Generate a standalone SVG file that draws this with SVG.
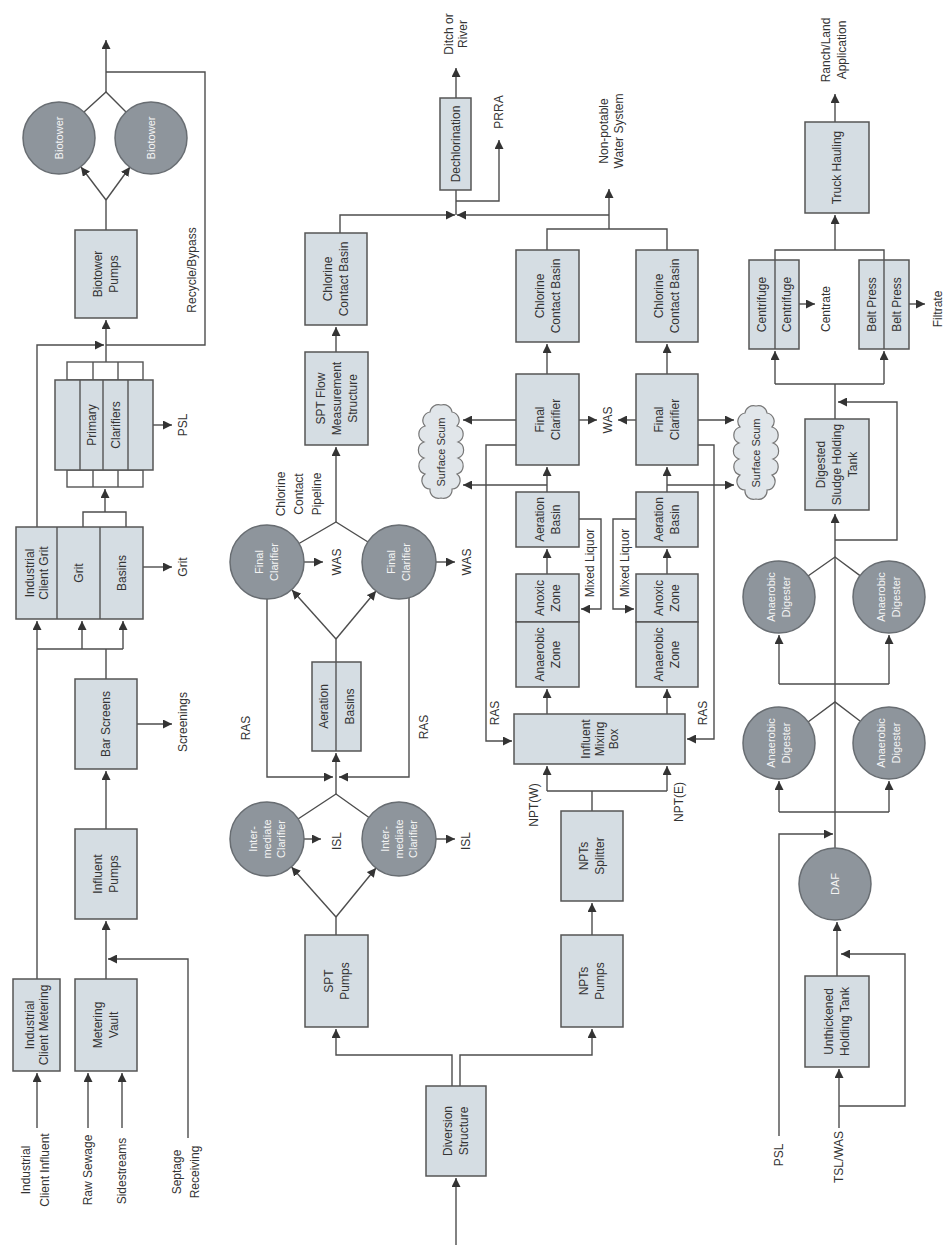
<svg xmlns="http://www.w3.org/2000/svg" width="948" height="1249" viewBox="0 0 948 1249">
<style>
.box{fill:#d5dde3;stroke:#555;stroke-width:1.5}
.fr{fill:none;stroke:#555;stroke-width:1.4}
.circ{fill:#8e959c;stroke:#686d72;stroke-width:1.5}
.cloud{fill:#e1e6ea;stroke:#777;stroke-width:1.2}
.ln{fill:none;stroke:#4d4d4d;stroke-width:1.4}
.ar{marker-end:url(#ah)}
.t{font-family:"Liberation Sans",Arial,sans-serif;font-size:12px;fill:#333;text-anchor:middle}
.tw{font-family:"Liberation Sans",Arial,sans-serif;font-size:11px;fill:#f4f4f4;text-anchor:middle}
</style>
<defs>
<marker id="ah" viewBox="0 0 10 10" refX="10" refY="5" markerWidth="9" markerHeight="9" markerUnits="userSpaceOnUse" orient="auto"><path d="M0,0 L10,5 L0,10 z" fill="#333"/></marker>
<path id="cl" d="M0,-47 A8.5,8.5 0 0 1 11,-40 A8.5,8.5 0 0 1 16,-26 A8.5,8.5 0 0 1 17,-10 A8.5,8.5 0 0 1 17,6 A8.5,8.5 0 0 1 16,22 A8.5,8.5 0 0 1 11,37 A8.5,8.5 0 0 1 0,46 A8.5,8.5 0 0 1 -11,37 A8.5,8.5 0 0 1 -16,22 A8.5,8.5 0 0 1 -17,6 A8.5,8.5 0 0 1 -17,-10 A8.5,8.5 0 0 1 -16,-26 A8.5,8.5 0 0 1 -11,-40 A8.5,8.5 0 0 1 0,-47 Z"/>
</defs>
<rect width="948" height="1249" fill="#ffffff"/>

<g id="connectors">
<path class="ln ar" d="M37,1128 V1073"/>
<path class="ln ar" d="M88,1128 V1073"/>
<path class="ln ar" d="M122,1128 V1073"/>
<path class="ln ar" d="M188,1138 V959 H108"/>
<path class="ln ar" d="M106,979 V921"/>
<path class="ln ar" d="M106,829 V771"/>
<path class="ln ar" d="M137,724 H172"/>
<path class="ln ar" d="M37,979 V621"/>
<path class="ln" d="M106,679 V649 M37,649 H123"/>
<path class="ln ar" d="M82,649 V621"/>
<path class="ln ar" d="M123,649 V621"/>
<path class="ln ar" d="M143,567 H172"/>
<path class="ln" d="M83,527 V512 H126 V527"/>
<path class="ln ar" d="M105,512 V489"/>
<path class="ln ar" d="M153,425 H172"/>
<path class="ln ar" d="M106,362 V320"/>
<path class="ln ar" d="M37,527 V345 H104"/>
<path class="ln" d="M106,345 H205 V72 H106"/>
<path class="ln" d="M106,230 V200"/>
<path class="ln ar" d="M106,200 L81,167"/>
<path class="ln ar" d="M106,200 L130,167"/>
<path class="ln" d="M84,112 L106,92 L127,113"/>
<path class="ln ar" d="M106,92 V40"/>

<path class="ln ar" d="M456,1245 V1178"/>
<path class="ln ar" d="M452,1086 V1055 H336 V1029"/>
<path class="ln ar" d="M460,1086 V1055 H592 V1029"/>
<path class="ln ar" d="M592,935 V903"/>
<path class="ln" d="M592,811 V791 M547,791 H667"/>
<path class="ln ar" d="M547,791 V766"/>
<path class="ln ar" d="M667,791 V766"/>
<path class="ln ar" d="M547,714 V689"/>
<path class="ln ar" d="M667,714 V689"/>
<path class="ln ar" d="M547,574 V549"/>
<path class="ln ar" d="M667,574 V549"/>
<path class="ln ar" d="M547,492 V467"/>
<path class="ln ar" d="M667,492 V467"/>
<path class="ln ar" d="M547,374 V344"/>
<path class="ln ar" d="M667,374 V344"/>
<path class="ln ar" d="M579,519 H601 V609 H581"/>
<path class="ln ar" d="M636,519 H613 V609 H634"/>
<path class="ln ar" d="M579,420 H597"/>
<path class="ln ar" d="M636,420 H618"/>
<path class="ln ar" d="M516,420 H463"/>
<path class="ln ar" d="M547,485 H463"/>
<path class="ln ar" d="M698,420 H734"/>
<path class="ln ar" d="M667,485 H734"/>
<path class="ln ar" d="M516,445 H486 V741 H512"/>
<path class="ln ar" d="M698,445 H714 V739 H687"/>
<path class="ln" d="M547,250 V229 H667 V250"/>
<path class="ln ar" d="M609,229 V189"/>
<path class="ln ar" d="M340,233 V215 H455"/>
<path class="ln ar" d="M609,215 H457"/>
<path class="ln" d="M456,215 V190"/>
<path class="ln ar" d="M456,201 H499 V140"/>
<path class="ln ar" d="M456,98 V68"/>

<path class="ln ar" d="M336,352 V327"/>
<path class="ln ar" d="M336,522 V447"/>
<path class="ln" d="M299,543.5 L336,522 L368,542"/>
<path class="ln ar" d="M304,562 H323"/>
<path class="ln ar" d="M436,562 H455"/>
<path class="ln" d="M336,662 V639"/>
<path class="ln ar" d="M336,639 L292,590"/>
<path class="ln ar" d="M336,639 L376,591"/>
<path class="ln ar" d="M267,599 V777 H333"/>
<path class="ln ar" d="M409,598 V777 H339"/>
<path class="ln ar" d="M336,794 V753"/>
<path class="ln" d="M298,819 L336,794 L369,817.5"/>
<path class="ln ar" d="M304,839 H321"/>
<path class="ln ar" d="M436,839 H455"/>
<path class="ln" d="M336,935 V917"/>
<path class="ln ar" d="M336,917 L291.5,867"/>
<path class="ln ar" d="M336,917 L376,868"/>

<path class="ln ar" d="M839,1128 V1069"/>
<path class="ln ar" d="M839,1106 H905 V954 H841"/>
<path class="ln ar" d="M837,976 V922"/>
<path class="ln ar" d="M779,1136 V834 H833"/>
<path class="ln ar" d="M835,848 V514"/>
<path class="ln" d="M779,812 H889"/>
<path class="ln ar" d="M779,812 V781"/>
<path class="ln ar" d="M889,812 V781"/>
<path class="ln" d="M808,722 L835,702 L860,721"/>
<path class="ln" d="M779,684 H889"/>
<path class="ln ar" d="M779,684 V635"/>
<path class="ln ar" d="M889,684 V635"/>
<path class="ln" d="M808,576 L835,557 L860,575.6"/>
<path class="ln ar" d="M835,540 H897 V402 H838"/>
<path class="ln" d="M835,419 V384 M775,384 H884"/>
<path class="ln ar" d="M775,384 V351"/>
<path class="ln ar" d="M884,384 V351"/>
<path class="ln ar" d="M799,304 H815"/>
<path class="ln ar" d="M909,304 H925"/>
<path class="ln" d="M775,260 V250 H884 V260"/>
<path class="ln ar" d="M835,250 V215"/>
<path class="ln ar" d="M835,122 V94"/>
</g>

<g id="industrial-client-metering"><rect class="box" x="13" y="979" width="47" height="92"/><text class="t" transform="translate(36.5,1025) rotate(-90)"><tspan x="0" y="-2.8">Industrial</tspan><tspan x="0" y="11.2">Client Metering</tspan></text></g>
<g id="metering-vault"><rect class="box" x="75" y="979" width="62" height="92"/><text class="t" transform="translate(106,1025) rotate(-90)"><tspan x="0" y="-3.8">Metering</tspan><tspan x="0" y="12.2">Vault</tspan></text></g>
<g id="influent-pumps"><rect class="box" x="75" y="829" width="62" height="90"/><text class="t" transform="translate(106,874) rotate(-90)"><tspan x="0" y="-3.8">Influent</tspan><tspan x="0" y="12.2">Pumps</tspan></text></g>
<g id="bar-screens"><rect class="box" x="75" y="679" width="62" height="90"/><text class="t" transform="translate(106,724) rotate(-90)"><tspan x="0" y="4.2">Bar Screens</tspan></text></g>
<g id="grit-basins"><rect class="box" x="16" y="527" width="127" height="92"/><path class="fr" d="M57,527 V619 M100,527 V619"/>
<text class="t" transform="translate(36.5,573) rotate(-90)"><tspan x="0" y="-2.8">Industrial</tspan><tspan x="0" y="11.2">Client Grit</tspan></text>
<text class="t" transform="translate(78.5,573) rotate(-90)"><tspan x="0" y="4.2">Grit</tspan></text>
<text class="t" transform="translate(121.5,573) rotate(-90)"><tspan x="0" y="4.2">Basins</tspan></text></g>
<g id="primary-clarifiers"><rect class="fr" x="67" y="362" width="76" height="18"/><rect class="fr" x="67" y="470" width="76" height="17"/><path class="fr" d="M93,362 V380 M118,362 V380 M93,470 V487 M118,470 V487"/>
<rect class="box" x="55" y="380" width="98" height="90"/><path class="fr" d="M80,380 V470 M103,380 V470 M128,380 V470"/>
<text class="t" transform="translate(103.5,425) rotate(-90)"><tspan x="0" y="-7.8">Primary</tspan><tspan x="0" y="16.2">Clarifiers</tspan></text></g>
<g id="biotower-pumps"><rect class="box" x="75" y="230" width="62" height="88"/><text class="t" transform="translate(106,274) rotate(-90)"><tspan x="0" y="-3.8">Biotower</tspan><tspan x="0" y="12.2">Pumps</tspan></text></g>
<g id="biotower-1"><circle class="circ" cx="59" cy="138" r="36"/><text class="tw" transform="translate(59,138) rotate(-90)"><tspan x="0" y="3.9">Biotower</tspan></text></g>
<g id="biotower-2"><circle class="circ" cx="151" cy="138" r="36"/><text class="tw" transform="translate(151,138) rotate(-90)"><tspan x="0" y="3.9">Biotower</tspan></text></g>

<g id="labels-left">
<text class="t" transform="translate(35,1170) rotate(-90)"><tspan x="0" y="-5.3">Industrial</tspan><tspan x="0" y="13.7">Client Influent</tspan></text>
<text class="t" transform="translate(88,1170) rotate(-90)"><tspan x="0" y="4.2">Raw Sewage</tspan></text>
<text class="t" transform="translate(122,1171) rotate(-90)"><tspan x="0" y="4.2">Sidestreams</tspan></text>
<text class="t" transform="translate(186,1172) rotate(-90)"><tspan x="0" y="-4.8">Septage</tspan><tspan x="0" y="13.2">Receiving</tspan></text>
<text class="t" transform="translate(183,722) rotate(-90)"><tspan x="0" y="4.2">Screenings</tspan></text>
<text class="t" transform="translate(183,567) rotate(-90)"><tspan x="0" y="4.2">Grit</tspan></text>
<text class="t" transform="translate(183,425) rotate(-90)"><tspan x="0" y="4.2">PSL</tspan></text>
<text class="t" transform="translate(192,270) rotate(-90)"><tspan x="0" y="4.2">Recycle/Bypass</tspan></text>
</g>

<g id="diversion-structure"><rect class="box" x="426" y="1086" width="60" height="90"/><text class="t" transform="translate(456,1131) rotate(-90)"><tspan x="0" y="-3.8">Diversion</tspan><tspan x="0" y="12.2">Structure</tspan></text></g>
<g id="spt-pumps"><rect class="box" x="305" y="935" width="63" height="92"/><text class="t" transform="translate(336.5,981) rotate(-90)"><tspan x="0" y="-3.8">SPT</tspan><tspan x="0" y="12.2">Pumps</tspan></text></g>
<g id="npts-pumps"><rect class="box" x="561" y="935" width="62" height="92"/><text class="t" transform="translate(592,981) rotate(-90)"><tspan x="0" y="-3.8">NPTs</tspan><tspan x="0" y="12.2">Pumps</tspan></text></g>
<g id="npts-splitter"><rect class="box" x="561" y="811" width="62" height="90"/><text class="t" transform="translate(592,856) rotate(-90)"><tspan x="0" y="-3.8">NPTs</tspan><tspan x="0" y="12.2">Splitter</tspan></text></g>
<g id="influent-mixing-box"><rect class="box" x="514" y="714" width="171" height="50"/><text class="t" transform="translate(599.5,739) rotate(-90)"><tspan x="0" y="-9.8">Influent</tspan><tspan x="0" y="4.2">Mixing</tspan><tspan x="0" y="18.2">Box</tspan></text></g>

<g id="anoxic-zone-w"><rect class="box" x="516" y="574" width="63" height="48"/><text class="t" transform="translate(547.5,598) rotate(-90)"><tspan x="0" y="-3.8">Anoxic</tspan><tspan x="0" y="12.2">Zone</tspan></text></g>
<g id="anaerobic-zone-w"><rect class="box" x="516" y="622" width="63" height="65"/><text class="t" transform="translate(547.5,654.5) rotate(-90)"><tspan x="0" y="-3.8">Anaerobic</tspan><tspan x="0" y="12.2">Zone</tspan></text></g>
<g id="aeration-basin-w"><rect class="box" x="516" y="492" width="63" height="55"/><text class="t" transform="translate(547.5,519.5) rotate(-90)"><tspan x="0" y="-3.8">Aeration</tspan><tspan x="0" y="12.2">Basin</tspan></text></g>
<g id="final-clarifier-w"><rect class="box" x="516" y="374" width="63" height="91"/><text class="t" transform="translate(547.5,419.5) rotate(-90)"><tspan x="0" y="-3.8">Final</tspan><tspan x="0" y="12.2">Clarifier</tspan></text></g>
<g id="chlorine-contact-w"><rect class="box" x="516" y="250" width="63" height="92"/><text class="t" transform="translate(547.5,296) rotate(-90)"><tspan x="0" y="-3.8">Chlorine</tspan><tspan x="0" y="12.2">Contact Basin</tspan></text></g>

<g id="anoxic-zone-e"><rect class="box" x="636" y="574" width="62" height="48"/><text class="t" transform="translate(667,598) rotate(-90)"><tspan x="0" y="-3.8">Anoxic</tspan><tspan x="0" y="12.2">Zone</tspan></text></g>
<g id="anaerobic-zone-e"><rect class="box" x="636" y="622" width="62" height="65"/><text class="t" transform="translate(667,654.5) rotate(-90)"><tspan x="0" y="-3.8">Anaerobic</tspan><tspan x="0" y="12.2">Zone</tspan></text></g>
<g id="aeration-basin-e"><rect class="box" x="636" y="492" width="62" height="55"/><text class="t" transform="translate(667,519.5) rotate(-90)"><tspan x="0" y="-3.8">Aeration</tspan><tspan x="0" y="12.2">Basin</tspan></text></g>
<g id="final-clarifier-e"><rect class="box" x="636" y="374" width="62" height="91"/><text class="t" transform="translate(667,419.5) rotate(-90)"><tspan x="0" y="-3.8">Final</tspan><tspan x="0" y="12.2">Clarifier</tspan></text></g>
<g id="chlorine-contact-e"><rect class="box" x="636" y="250" width="62" height="92"/><text class="t" transform="translate(667,296) rotate(-90)"><tspan x="0" y="-3.8">Chlorine</tspan><tspan x="0" y="12.2">Contact Basin</tspan></text></g>

<g id="surface-scum-w"><use href="#cl" class="cloud" x="441" y="452"/><text class="t" transform="translate(441,452) rotate(-90)" style="font-size:11px"><tspan x="0" y="3.9">Surface Scum</tspan></text></g>
<g id="surface-scum-e"><use href="#cl" class="cloud" x="756" y="453"/><text class="t" transform="translate(756,453) rotate(-90)" style="font-size:11px"><tspan x="0" y="3.9">Surface Scum</tspan></text></g>

<g id="dechlorination"><rect class="box" x="440" y="98" width="31" height="92"/><text class="t" transform="translate(455.5,144) rotate(-90)"><tspan x="0" y="4.2">Dechlorination</tspan></text></g>

<g id="spt-chlorine-contact"><rect class="box" x="305" y="233" width="62" height="92"/><text class="t" transform="translate(336,279) rotate(-90)"><tspan x="0" y="-3.8">Chlorine</tspan><tspan x="0" y="12.2">Contact Basin</tspan></text></g>
<g id="spt-flow-measurement"><rect class="box" x="305" y="352" width="63" height="93"/><text class="t" transform="translate(336.5,398.5) rotate(-90)"><tspan x="0" y="-11.8">SPT Flow</tspan><tspan x="0" y="4.2">Measurement</tspan><tspan x="0" y="20.2">Structure</tspan></text></g>
<g id="final-clarifier-c1"><circle class="circ" cx="267" cy="562" r="37"/><text class="tw" transform="translate(267,562) rotate(-90)"><tspan x="0" y="-3.6">Final</tspan><tspan x="0" y="11.4">Clarifier</tspan></text></g>
<g id="final-clarifier-c2"><circle class="circ" cx="399" cy="562" r="37"/><text class="tw" transform="translate(399,562) rotate(-90)"><tspan x="0" y="-3.6">Final</tspan><tspan x="0" y="11.4">Clarifier</tspan></text></g>
<g id="aeration-basins"><rect class="box" x="312" y="662" width="49" height="89"/><path class="fr" d="M336,662 V751"/><text class="t" transform="translate(336.5,706.5) rotate(-90)"><tspan x="0" y="-8.8">Aeration</tspan><tspan x="0" y="17.2">Basins</tspan></text></g>
<g id="intermediate-clarifier-1"><circle class="circ" cx="267" cy="839" r="37"/><text class="tw" transform="translate(267,839) rotate(-90)"><tspan x="0" y="-10.1">Inter-</tspan><tspan x="0" y="3.9">mediate</tspan><tspan x="0" y="17.9">Clarifier</tspan></text></g>
<g id="intermediate-clarifier-2"><circle class="circ" cx="399" cy="839" r="37"/><text class="tw" transform="translate(399,839) rotate(-90)"><tspan x="0" y="-10.1">Inter-</tspan><tspan x="0" y="3.9">mediate</tspan><tspan x="0" y="17.9">Clarifier</tspan></text></g>

<g id="labels-middle">
<text class="t" transform="translate(534,805) rotate(-90)"><tspan x="0" y="4.2">NPT(W)</tspan></text>
<text class="t" transform="translate(679,802) rotate(-90)"><tspan x="0" y="4.2">NPT(E)</tspan></text>
<text class="t" transform="translate(495,713) rotate(-90)"><tspan x="0" y="4.2">RAS</tspan></text>
<text class="t" transform="translate(703,713) rotate(-90)"><tspan x="0" y="4.2">RAS</tspan></text>
<text class="t" transform="translate(590,563) rotate(-90)"><tspan x="0" y="4.2">Mixed Liquor</tspan></text>
<text class="t" transform="translate(625,563) rotate(-90)"><tspan x="0" y="4.2">Mixed Liquor</tspan></text>
<text class="t" transform="translate(607.5,420) rotate(-90)"><tspan x="0" y="4.2">WAS</tspan></text>
<text class="t" transform="translate(611,131) rotate(-90)"><tspan x="0" y="-3.3">Non-potable</tspan><tspan x="0" y="11.7">Water System</tspan></text>
<text class="t" transform="translate(499,112) rotate(-90)"><tspan x="0" y="4.2">PRRA</tspan></text>
<text class="t" transform="translate(456,34) rotate(-90)"><tspan x="0" y="-2.8">Ditch or</tspan><tspan x="0" y="11.2">River</tspan></text>
<text class="t" transform="translate(299,494) rotate(-90)"><tspan x="0" y="-13.8">Chlorine</tspan><tspan x="0" y="4.2">Contact</tspan><tspan x="0" y="22.2">Pipeline</tspan></text>
<text class="t" transform="translate(337,562) rotate(-90)"><tspan x="0" y="4.2">WAS</tspan></text>
<text class="t" transform="translate(467,562) rotate(-90)"><tspan x="0" y="4.2">WAS</tspan></text>
<text class="t" transform="translate(246,728) rotate(-90)"><tspan x="0" y="4.2">RAS</tspan></text>
<text class="t" transform="translate(424,727) rotate(-90)"><tspan x="0" y="4.2">RAS</tspan></text>
<text class="t" transform="translate(337,841) rotate(-90)"><tspan x="0" y="4.2">ISL</tspan></text>
<text class="t" transform="translate(466,841) rotate(-90)"><tspan x="0" y="4.2">ISL</tspan></text>
</g>

<g id="unthickened-holding-tank"><rect class="box" x="805" y="976" width="64" height="91"/><text class="t" transform="translate(837,1021.5) rotate(-90)"><tspan x="0" y="-3.8">Unthickened</tspan><tspan x="0" y="12.2">Holding Tank</tspan></text></g>
<g id="daf"><circle class="circ" cx="835" cy="884" r="36"/><text class="tw" transform="translate(835,884) rotate(-90)"><tspan x="0" y="3.9">DAF</tspan></text></g>
<g id="anaerobic-digester-1"><circle class="circ" cx="779" cy="743" r="36"/><text class="tw" transform="translate(779,743) rotate(-90)"><tspan x="0" y="-3.6">Anaerobic</tspan><tspan x="0" y="11.4">Digester</tspan></text></g>
<g id="anaerobic-digester-2"><circle class="circ" cx="889" cy="743" r="36"/><text class="tw" transform="translate(889,743) rotate(-90)"><tspan x="0" y="-3.6">Anaerobic</tspan><tspan x="0" y="11.4">Digester</tspan></text></g>
<g id="anaerobic-digester-3"><circle class="circ" cx="779" cy="597" r="36"/><text class="tw" transform="translate(779,597) rotate(-90)"><tspan x="0" y="-3.6">Anaerobic</tspan><tspan x="0" y="11.4">Digester</tspan></text></g>
<g id="anaerobic-digester-4"><circle class="circ" cx="889" cy="597" r="36"/><text class="tw" transform="translate(889,597) rotate(-90)"><tspan x="0" y="-3.6">Anaerobic</tspan><tspan x="0" y="11.4">Digester</tspan></text></g>
<g id="digested-sludge-holding-tank"><rect class="box" x="805" y="419" width="64" height="91"/><text class="t" transform="translate(837,464.5) rotate(-90)"><tspan x="0" y="-11.8">Digested</tspan><tspan x="0" y="4.2">Sludge Holding</tspan><tspan x="0" y="20.2">Tank</tspan></text></g>
<g id="centrifuge"><rect class="box" x="749" y="260" width="50" height="89"/><path class="fr" d="M775,260 V349"/><text class="t" transform="translate(762,304.5) rotate(-90)"><tspan x="0" y="4.2">Centrifuge</tspan></text><text class="t" transform="translate(787,304.5) rotate(-90)"><tspan x="0" y="4.2">Centrifuge</tspan></text></g>
<g id="belt-press"><rect class="box" x="859" y="260" width="50" height="89"/><path class="fr" d="M884,260 V349"/><text class="t" transform="translate(871.5,304.5) rotate(-90)"><tspan x="0" y="4.2">Belt Press</tspan></text><text class="t" transform="translate(896.5,304.5) rotate(-90)"><tspan x="0" y="4.2">Belt Press</tspan></text></g>
<g id="truck-hauling"><rect class="box" x="805" y="122" width="64" height="91"/><text class="t" transform="translate(837,167.5) rotate(-90)"><tspan x="0" y="4.2">Truck Hauling</tspan></text></g>

<g id="labels-right">
<text class="t" transform="translate(839,1157) rotate(-90)"><tspan x="0" y="4.2">TSL/WAS</tspan></text>
<text class="t" transform="translate(779,1155) rotate(-90)"><tspan x="0" y="4.2">PSL</tspan></text>
<text class="t" transform="translate(826,309) rotate(-90)"><tspan x="0" y="4.2">Centrate</tspan></text>
<text class="t" transform="translate(938,309) rotate(-90)"><tspan x="0" y="4.2">Filtrate</tspan></text>
<text class="t" transform="translate(834,50) rotate(-90)"><tspan x="0" y="-3.8">Ranch/Land</tspan><tspan x="0" y="12.2">Application</tspan></text>
</g>
</svg>
